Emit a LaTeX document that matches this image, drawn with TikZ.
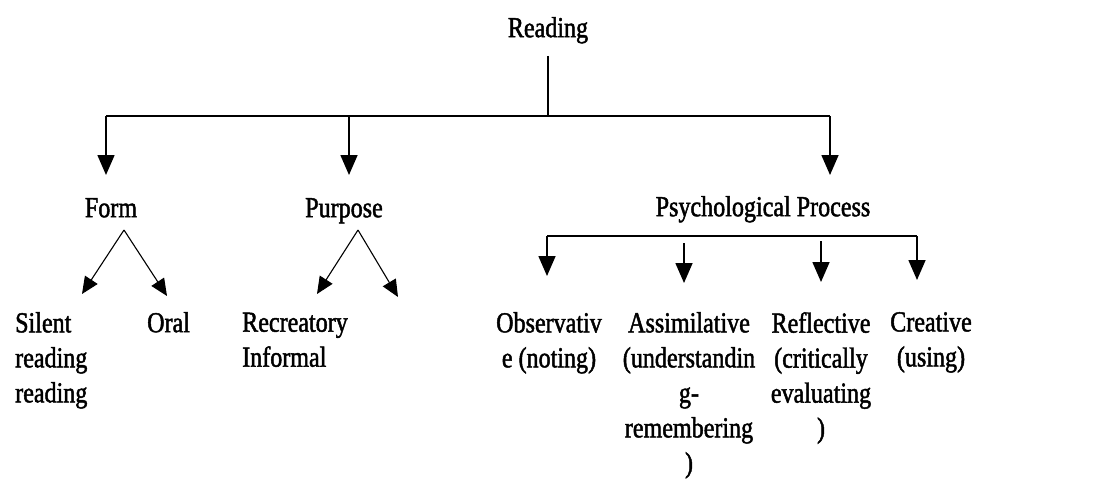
\documentclass[tikz,border=0pt]{standalone}
\usepackage{fontspec}
\setmainfont{Liberation Serif}
\newfontfamily\lblfont{Liberation Serif}[FakeStretch=0.83,FakeBold=1.6]
\usetikzlibrary{arrows.meta,positioning}

\begin{document}
\begin{tikzpicture}[x=1pt,y=-1pt,
    every node/.style={inner sep=0pt,font=\lblfont\fontsize{29}{35}\selectfont}]
  \tikzstyle{nodeC}=[anchor=north,align=center,execute at begin node=\strut]
  \tikzstyle{nodeL}=[anchor=north west,align=left,execute at begin node=\strut]
  \tikzstyle{lineM}=[line width=1.6pt]
  \tikzstyle{arrM}=[line width=1.6pt,-{Triangle[length=20pt,width=17pt]}]
  \tikzstyle{arrD}=[line width=1.1pt,-{Triangle[length=17pt,width=15pt]}]

  \useasboundingbox (0,0) rectangle (1094,479);

  % headings
  \node[nodeC] (read)  at (548,12.5)  {Reading};
  \node[nodeC] (form)  at (111,192.5) {Form};
  \node[nodeC] (purp)  at (344,192.5) {Purpose};
  \node[nodeC] (psych) at (763,191.5) {Psychological Process};

  % leaves
  \node[nodeL] (sil)   at (15,312)    {Silent\\reading\\reading};
  \node[nodeL] (oral)  at (147,307.5) {Oral};
  \node[nodeL] (recr)  at (242,312.5) {Recreatory\\Informal};
  \node[nodeC] (obs)   at (549,312)   {Observativ\\e (noting)};
  \node[nodeC] (assim) at (689,312)   {Assimilative\\(understandin\\g-\\remembering\\)};
  \node[nodeC] (refl)  at (821,312)   {Reflective\\(critically\\evaluating\\)};
  \node[nodeC] (crea)  at (931,312)   {Creative\\(using)};

  % joints and arrow ends
  \coordinate (rsplit) at (548,116);
  \coordinate (barL) at (106,116);
  \coordinate (barM) at (349,116);
  \coordinate (barR) at (830,116);
  \coordinate (fsplit) at (124,230);
  \coordinate (psplit) at (358,230);
  \coordinate (silTip) at (82,294);
  \coordinate (oralTip) at (167,296);
  \coordinate (recrTip) at (317,294);
  \coordinate (infTip) at (398,297);
  \coordinate (qbarL) at (547,236);
  \coordinate (qbarR) at (917,236);
  \coordinate (assimTop) at (684,243);
  \coordinate (reflTop) at (821,241);

  % top level
  \draw[lineM,shorten <=8pt] (read.south) -- (rsplit);
  \draw[lineM] (barL) -- (barR);
  \draw[arrM] (barL) -- (barL |- 0,175);
  \draw[arrM] (barM) -- (barM |- 0,175);
  \draw[arrM] (barR) -- (barR |- 0,175);

  % form and purpose
  \path[arrD] (fsplit) edge (silTip) edge (oralTip);
  \path[arrD] (psplit) edge (recrTip) edge (infTip);

  % psychological process
  \draw[lineM] (qbarL) -- (qbarR);
  \draw[arrM] (qbarL) -- (qbarL |- 0,276);
  \draw[arrM] (assimTop) -- (assimTop |- 0,283);
  \draw[arrM] (reflTop) -- (reflTop |- 0,282);
  \draw[arrM] (qbarR) -- (qbarR |- 0,280);
\end{tikzpicture}
\end{document}
